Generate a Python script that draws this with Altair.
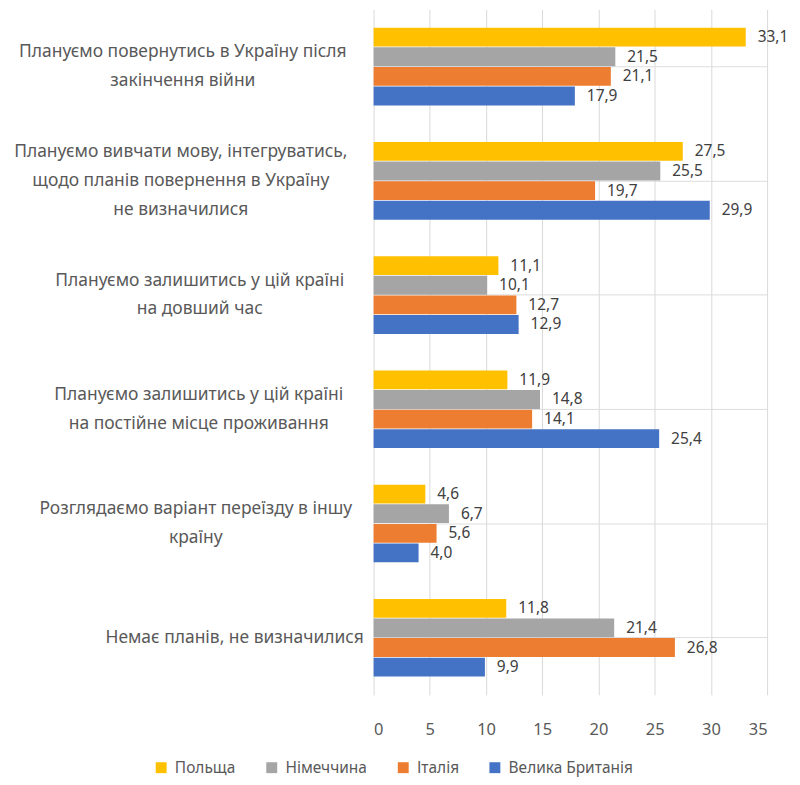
import altair as alt
import pandas as pd

categories = [
    "Плануємо повернутись в Україну після|закінчення війни",
    "Плануємо вивчати мову, інтегруватись,|щодо планів повернення в Україну|не визначилися",
    "Плануємо залишитись у цій країні|на довший час",
    "Плануємо залишитись у цій країні|на постійне місце проживання",
    "Розглядаємо варіант переїзду в іншу|країну",
    "Немає планів, не визначилися",
]
series = ["Польща", "Німеччина", "Італія", "Велика Британія"]
poland = [33.1, 27.5, 11.1, 11.9, 4.6, 11.8]
germany = [21.5, 25.5, 10.1, 14.8, 6.7, 21.4]
italy = [21.1, 19.7, 12.7, 14.1, 5.6, 26.8]
uk = [17.9, 29.9, 12.9, 25.4, 4.0, 9.9]
colors = ["#FFC000", "#A5A5A5", "#ED7D31", "#4472C4"]

# label block centre offsets from the axis (styling)
label_pad = [192, 194, 175, 176, 179, 140]
LH = 29

rows = []
for s, vals in zip(series, [poland, germany, italy, uk]):
    for c, v in zip(categories, vals):
        rows.append({"cat": c, "series": s, "v": v})
df = pd.DataFrame(rows)

pad_expr = " : ".join(
    f"datum.value == '{c}' ? {p}" for c, p in zip(categories, label_pad)
) + " : 180"
off_expr = f"-(length(split(datum.value, '|')) - 1) * {LH / 2}"

FONT = "Noto Sans"

y = alt.Y("cat:N", sort=categories, title=None,
          scale=alt.Scale(paddingInner=0.32, paddingOuter=0.16),
          axis=alt.Axis(labelExpr="split(datum.label, '|')", labelAlign="center",
                        labelPadding=alt.ExprRef(expr=pad_expr),
                        labelOffset=alt.ExprRef(expr=off_expr), labelLimit=500,
                        labelFontSize=17.5, labelColor="#595959", labelFont=FONT,
                        labelLineHeight=LH, ticks=False, domain=False))
yoff = alt.YOffset("series:N", sort=series, scale=alt.Scale(paddingInner=0.04))

base = alt.Chart(df).encode(y=y, yOffset=yoff)

bars = base.mark_bar().encode(
    x=alt.X("v:Q", scale=alt.Scale(domain=[0, 35]), title=None,
            axis=alt.Axis(values=[0, 5, 10, 15, 20, 25, 30, 35], labelFontSize=16.5,
                          labelColor="#595959", labelFont=FONT, labelPadding=27,
                          ticks=False, domain=False, gridColor="#D9D9D9")),
    color=alt.Color("series:N", sort=series, scale=alt.Scale(domain=series, range=colors),
                    legend=alt.Legend(title=None, orient="none", direction="horizontal",
                                      legendX=-221, legendY=753, symbolType="square",
                                      symbolSize=120, symbolStrokeWidth=0,
                                      labelFontSize=15.5, labelColor="#595959",
                                      labelFont=FONT, columnPadding=28, labelOffset=6)),
)

text = base.mark_text(align="left", baseline="middle", dx=12, fontSize=15.5,
                      color="#404040", font=FONT).encode(
    x=alt.X("v:Q"),
    text=alt.Text("lbl:N"),
).transform_calculate(lbl="replace(format(datum.v, '.1f'), '.', ',')")

chart = (bars + text).properties(
    width=395, height=688,
    autosize=alt.AutoSizeParams(type="none"),
    padding={"left": 367, "top": 0, "right": 25, "bottom": 81},
).configure_view(stroke=None).configure_axis(grid=True)

chart.save("out.html", embed_options={"renderer": "svg", "actions": False})
